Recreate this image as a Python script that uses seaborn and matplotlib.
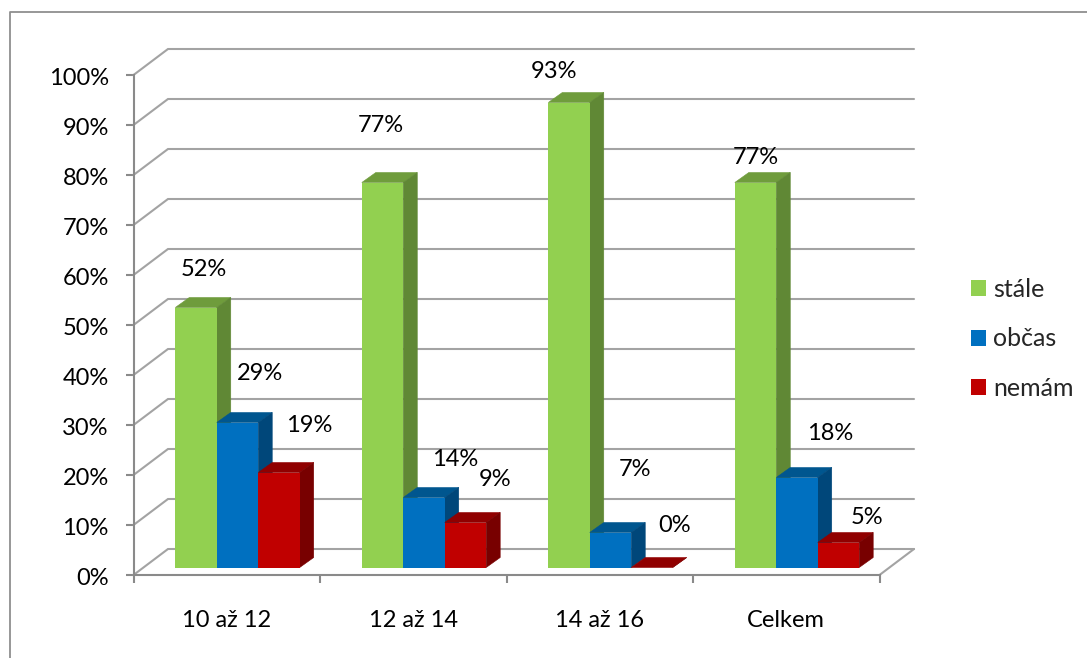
import matplotlib
matplotlib.use("Agg")
import matplotlib.pyplot as plt
from matplotlib.lines import Line2D
from matplotlib.patches import Polygon
from matplotlib.transforms import Affine2D
import pandas as pd
import seaborn as sns

categories = ["10 až 12", "12 až 14", "14 až 16", "Celkem"]
series_names = ["stále", "občas", "nemám"]
stale = [52, 77, 93, 77]
obcas = [29, 14, 7, 18]
nemam = [19, 9, 0, 5]

W, H = 1087, 658
LEFT, RIGHT, BOTTOM, TOP = 133.5, 879.5, 575, 75
GREY = "#8a8a8a"
WALL = "#a3a3a3"

front = ["#92D050", "#0070C0", "#C00000"]
tops = ["#6f9c3c", "#00568f", "#900000"]
sides = ["#608835", "#00477a", "#780000"]

# label offsets from the bar's top centre, pixels (Excel moved them around by hand)
label_offsets = [
    [(7.5, 38.5), (23, 49.5), (30, 47.5)],
    [(-2, 56.5), (31, 37.5), (29.5, 42.5)],
    [(-15, 31.5), (24.5, 62.5), (23, 41.5)],
    [(0, 24.5), (33, 44.5), (28.5, 25.5)],
]

df = pd.DataFrame({
    "skupina": categories * 3,
    "serie": [s for s in series_names for _ in categories],
    "hodnota": stale + obcas + nemam,
})

sns.set_style("white")
plt.rcParams["font.family"] = ["Lato", "DejaVu Sans"]
fs = 17

fig = plt.figure(figsize=(W / 100, H / 100), dpi=100)
ax = fig.add_axes([LEFT / W, 1 - BOTTOM / H, (RIGHT - LEFT) / W, (BOTTOM - TOP) / H])

sns.barplot(data=df, x="skupina", y="hodnota", hue="serie", hue_order=series_names,
            order=categories, palette=front, saturation=1, width=0.667, gap=0,
            errorbar=None, ax=ax, linewidth=0)
ax.set_xlim(-0.5, 3.5)
ax.set_ylim(0, 100)

# pixels -> data units
px_x = 4 / (RIGHT - LEFT)
px_y = 100 / (BOTTOM - TOP)

# back wall and floor
wall_dx, wall_dy = 34.5 * px_x, 26 * px_y
yticks = list(range(0, 101, 10))
for y in yticks:
    ax.plot([-0.5, -0.5 + wall_dx, 3.5 + wall_dx], [y, y + wall_dy, y + wall_dy],
            color=WALL, lw=1.5, clip_on=False, zorder=1, solid_joinstyle="miter")
ax.plot([3.5, 3.5 + wall_dx], [0, wall_dy], color=WALL, lw=1.5, clip_on=False, zorder=1)

# 3d look for the bars
bar_dx, bar_dy = 10.75 * px_x, 7.5 * px_y
depth_x, depth_y = 14 * px_x, 10 * px_y
for s, cont in enumerate(ax.containers):
    for g, p in enumerate(cont.patches):
        z = 3 + g * 3 + s
        x0 = p.get_x() + bar_dx
        x1 = x0 + p.get_width()
        y0 = bar_dy
        y1 = y0 + p.get_height()
        p.set_x(x0)
        p.set_y(y0)
        p.set_clip_on(False)
        p.set_zorder(z + 0.5)
        ax.add_patch(Polygon([(x0, y1), (x1, y1), (x1 + depth_x, y1 + depth_y), (x0 + depth_x, y1 + depth_y)],
                             closed=True, fc=tops[s], ec=tops[s], lw=0.4, clip_on=False, zorder=z))
        ax.add_patch(Polygon([(x1, y0), (x1, y1), (x1 + depth_x, y1 + depth_y), (x1 + depth_x, y0 + depth_y)],
                             closed=True, fc=sides[s], ec=sides[s], lw=0.4, clip_on=False, zorder=z))
        ox, oy = label_offsets[g][s]
        ax.annotate(f"{int(p.get_height())}%", ((x0 + x1) / 2, y1), xytext=(ox, oy),
                    textcoords="offset pixels", ha="center", va="center",
                    fontsize=fs, color="black", zorder=50, annotation_clip=False)

sns.despine(ax=ax, top=True, right=True)
for side in ["left", "bottom"]:
    ax.spines[side].set_color(GREY)
    ax.spines[side].set_linewidth(1.5)
ax.set_xlabel("")
ax.set_ylabel("")
ax.set_yticks(yticks)
ax.set_yticklabels([f"{y}%" for y in yticks], fontsize=fs)
ax.set_xticks(range(len(categories)))
ax.set_xticklabels(categories, fontsize=fs)
ax.set_xticks([i - 0.5 for i in range(len(categories) + 1)], minor=True)
ax.tick_params(axis="x", which="major", length=0, pad=25, colors="black")
ax.tick_params(axis="x", which="minor", length=5.8, width=1.5, color=GREY, bottom=True)
ax.tick_params(axis="y", length=5.8, width=1.5, color=GREY, labelcolor="black", pad=12, left=True)
for lab in ax.get_yticklabels():
    lab.set_transform(lab.get_transform() + Affine2D().translate(0, -1.5))

handles, labels = ax.get_legend_handles_labels()
leg = ax.legend(handles, labels, loc="center left", bbox_to_anchor=((971 - LEFT) / (RIGHT - LEFT), (BOTTOM - 339) / (BOTTOM - TOP)),
                frameon=False, fontsize=18, handlelength=0.6, handleheight=0.6, handletextpad=0.28,
                labelspacing=1.06, borderpad=0, borderaxespad=0, title=None)

# outer frame of the pasted picture, only left and top survive the crop
fig.add_artist(Line2D([9.5 / W, 9.5 / W, 1], [0, 1 - 11.5 / H, 1 - 11.5 / H], color="#8f8f8f", lw=1.3))

fig.savefig("out.png", dpi=100, facecolor="white")
